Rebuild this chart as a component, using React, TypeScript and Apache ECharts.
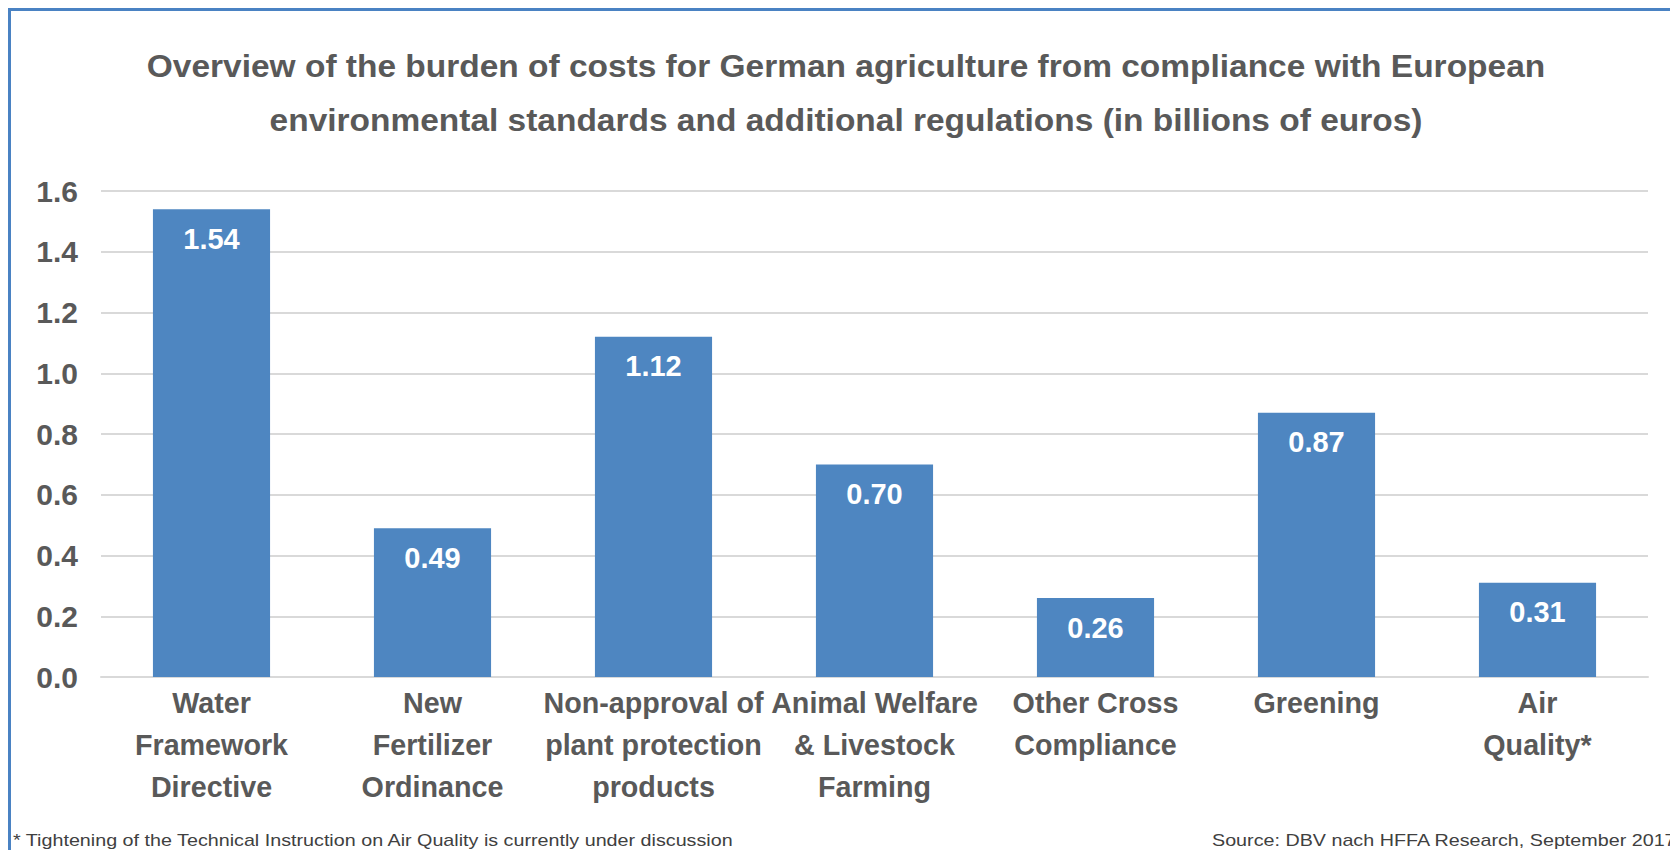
import React, { useEffect, useRef } from "react";
import * as echarts from "echarts";

const categories = [
  "Water\nFramework\nDirective",
  "New\nFertilizer\nOrdinance",
  "Non-approval of\nplant protection\nproducts",
  "Animal Welfare\n& Livestock\nFarming",
  "Other Cross\nCompliance",
  "Greening",
  "Air\nQuality*",
];
const costs = [1.54, 0.49, 1.12, 0.7, 0.26, 0.87, 0.31];
const titleLines = [
  "Overview of the burden of costs for German agriculture from compliance with European",
  "environmental standards and additional regulations (in billions of euros)",
];
const footnote = "* Tightening of the Technical Instruction on Air Quality is currently under discussion";
const source = "Source: DBV nach HFFA Research, September 2017";

const FONT = "'Liberation Sans', Arial, sans-serif";
const GRAY = "#595959";
const BLUE = "#4e86c1";
const FRAME = "#4a82c3";

export default function App() {
  const ref = useRef<HTMLDivElement>(null);
  useEffect(() => {
    if (!ref.current) return;
    const chart = echarts.init(ref.current, undefined, { renderer: "svg" });
    chart.setOption({
      animation: false,
      backgroundColor: "#ffffff",
      grid: { left: 101, right: 22, top: 191, bottom: 173, containLabel: false },
      xAxis: {
        type: "category",
        data: categories,
        axisTick: { show: false },
        axisLine: { lineStyle: { color: "#d9d9d9", width: 2 } },
        axisLabel: {
          interval: 0,
          hideOverlap: false,
          margin: 5,
          color: GRAY,
          fontFamily: FONT,
          fontWeight: "bold",
          fontSize: 28.7,
          lineHeight: 42,
        },
      },
      yAxis: {
        type: "value",
        min: 0,
        max: 1.6,
        interval: 0.2,
        axisLine: { show: false },
        axisTick: { show: false },
        splitLine: { lineStyle: { color: "#d9d9d9", width: 2 } },
        axisLabel: {
          margin: 23,
          color: GRAY,
          fontFamily: FONT,
          fontWeight: "bold",
          fontSize: 30,
          formatter: (v: number) => v.toFixed(1),
        },
      },
      series: [
        {
          type: "bar",
          data: costs,
          barWidth: "53%",
          itemStyle: { color: BLUE },
          label: {
            show: true,
            position: "insideTop",
            distance: 15,
            color: "#ffffff",
            fontFamily: FONT,
            fontWeight: "bold",
            fontSize: 29,
            lineHeight: 29,
            formatter: (p: any) => Number(p.value).toFixed(2),
          },
        },
      ],
      graphic: [
        {
          type: "line",
          shape: { x1: 8, y1: 9.5, x2: 1670, y2: 9.5 },
          style: { stroke: FRAME, lineWidth: 3 },
        },
        {
          type: "line",
          shape: { x1: 9.5, y1: 8, x2: 9.5, y2: 850 },
          style: { stroke: FRAME, lineWidth: 3 },
        },
        {
          type: "text",
          x: 846,
          y: 66,
          scaleX: 1.08,
          style: {
            text: titleLines[0],
            textAlign: "center",
            textVerticalAlign: "middle",
            fill: GRAY,
            font: `bold 31px ${FONT}`,
          },
        },
        {
          type: "text",
          x: 846,
          y: 120,
          scaleX: 1.08,
          style: {
            text: titleLines[1],
            textAlign: "center",
            textVerticalAlign: "middle",
            fill: GRAY,
            font: `bold 31px ${FONT}`,
          },
        },
        {
          type: "text",
          x: 13,
          y: 840,
          scaleX: 1.16,
          style: {
            text: footnote,
            textAlign: "left",
            textVerticalAlign: "middle",
            fill: "#404040",
            font: `17px ${FONT}`,
          },
        },
        {
          type: "text",
          x: 1212,
          y: 840,
          scaleX: 1.16,
          style: {
            text: source,
            textAlign: "left",
            textVerticalAlign: "middle",
            fill: "#404040",
            font: `17px ${FONT}`,
          },
        },
      ],
    });
    return () => chart.dispose();
  }, []);
  return (
    <div
      ref={ref}
      style={{ position: "fixed", left: 0, top: 0, width: 1670, height: 850, background: "#fff" }}
    />
  );
}
